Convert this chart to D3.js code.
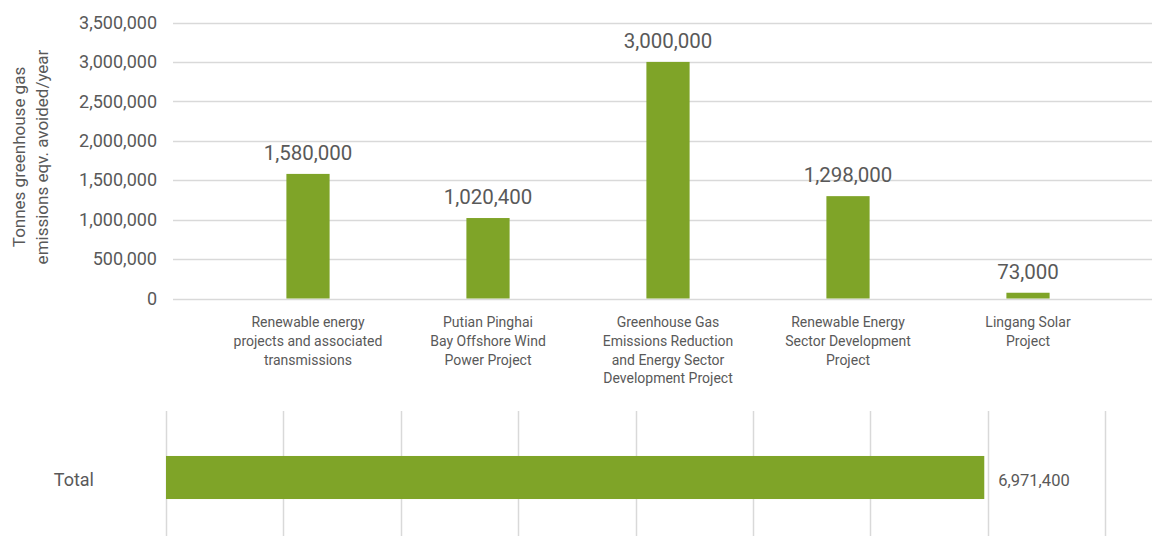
<!DOCTYPE html>
<html>
<head>
<meta charset="utf-8">
<script src="https://cdn.jsdelivr.net/npm/d3@7"></script>
<style>
  html, body { margin: 0; padding: 0; background: #fff; }
  svg { display: block; }
  text { font-family: Roboto, "DejaVu Sans", sans-serif; fill: #595959; }
</style>
</head>
<body>
<svg id="chart" width="1152" height="536"></svg>
<script>
// Project names (each entry split into display lines)
const projects = [
  ["Renewable energy", "projects and associated", "transmissions"],
  ["Putian Pinghai", "Bay Offshore Wind", "Power Project"],
  ["Greenhouse Gas", "Emissions Reduction", "and Energy Sector", "Development Project"],
  ["Renewable Energy", "Sector Development", "Project"],
  ["Lingang Solar", "Project"]
];
// Tonnes of greenhouse gas emissions eqv. avoided per year
const avoided = [1580000, 1020400, 3000000, 1298000, 73000];
const yTicks = [0, 500000, 1000000, 1500000, 2000000, 2500000, 3000000, 3500000];
const totalLabel = ["Total"];
const totalValue = [6971400];
const xTicksTotal = [0, 1000000, 2000000, 3000000, 4000000, 5000000, 6000000, 7000000, 8000000];
const yTitle = ["Tonnes greenhouse gas", "emissions eqv. avoided/year"];

const GREEN = "#7fa428";
const GRID = "#d9d9d9";
const fmt = d3.format(",");

const svg = d3.select("#chart");

// ---- Column chart ----
const y = d3.scaleLinear().domain([0, 3500000]).range([298.5, 22.5]);
const x = d3.scaleBand().domain(d3.range(projects.length)).range([218, 1118]).paddingInner(0.76).paddingOuter(0.38);

const yAxis = d3.axisLeft(y).tickValues(yTicks).tickFormat(fmt).tickSize(0).tickPadding(15);
const yG = svg.append("g").attr("transform", "translate(172,0)").call(yAxis);
yG.select(".domain").remove();
yG.selectAll("text").style("font-size", "18px").style("fill", "#595959");

svg.append("g").selectAll("line").data(yTicks).join("line")
  .attr("x1", 173).attr("x2", 1152)
  .attr("y1", d => Math.round(y(d)) + 0.5).attr("y2", d => Math.round(y(d)) + 0.5)
  .attr("stroke", GRID).attr("stroke-width", 1.5);

svg.append("g").selectAll("rect").data(avoided).join("rect")
  .attr("x", (d, i) => x(i)).attr("width", x.bandwidth())
  .attr("y", d => y(d)).attr("height", d => y(0) - y(d))
  .attr("fill", GREEN);

svg.append("g").selectAll("text").data(avoided).join("text")
  .attr("x", (d, i) => x(i) + x.bandwidth() / 2)
  .attr("y", d => y(d) - 14)
  .attr("text-anchor", "middle")
  .style("font-size", "20.5px")
  .text(d => fmt(d));

const catG = svg.append("g").selectAll("text").data(projects).join("text")
  .attr("x", (d, i) => x(i) + x.bandwidth() / 2)
  .attr("y", 327)
  .attr("text-anchor", "middle")
  .style("font-size", "14px");
catG.selectAll("tspan").data(d => d).join("tspan")
  .attr("x", function () { return d3.select(this.parentNode).attr("x"); })
  .attr("dy", (d, i) => i === 0 ? 0 : 18.8)
  .text(d => d);

const title = svg.append("text")
  .attr("transform", "translate(19,157) rotate(-90)")
  .attr("text-anchor", "middle")
  .style("font-size", "17px");
title.selectAll("tspan").data(yTitle).join("tspan")
  .attr("x", 0).attr("dy", (d, i) => i === 0 ? 6 : 22.5)
  .text(d => d);

// ---- Total bar ----
const xt = d3.scaleLinear().domain([0, 8000000]).range([166, 1105]);
const yt = d3.scaleBand().domain(totalLabel).range([434, 521]).padding(0.338);

svg.append("g").selectAll("line").data(xTicksTotal).join("line")
  .attr("x1", d => Math.round(xt(d)) + 0.5).attr("x2", d => Math.round(xt(d)) + 0.5)
  .attr("y1", 411).attr("y2", 536)
  .attr("stroke", GRID).attr("stroke-width", 1.5);

svg.append("g").selectAll("rect").data(totalValue).join("rect")
  .attr("x", xt(0)).attr("y", (d, i) => yt(totalLabel[i]))
  .attr("width", d => xt(d) - xt(0)).attr("height", yt.bandwidth())
  .attr("fill", GREEN);

svg.append("g").selectAll("text").data(totalValue).join("text")
  .attr("x", d => xt(d) + 14)
  .attr("y", (d, i) => yt(totalLabel[i]) + yt.bandwidth() / 2 + 2.5)
  .attr("dy", "0.35em")
  .style("font-size", "16.5px")
  .text(d => fmt(d));

const ytAxis = d3.axisLeft(yt).tickSize(0).tickPadding(0);
const ytG = svg.append("g").attr("transform", "translate(94,3)").call(ytAxis);
ytG.select(".domain").remove();
ytG.selectAll("text").style("font-size", "18px").style("fill", "#595959");
</script>
</body>
</html>
